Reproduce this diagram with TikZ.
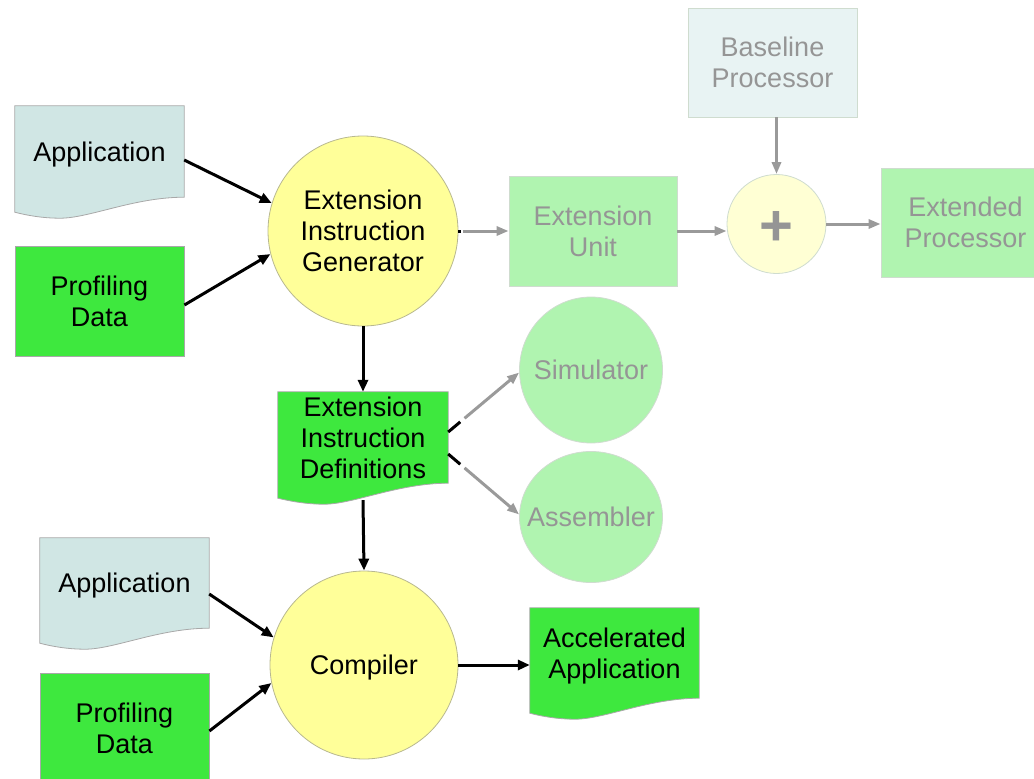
\documentclass[tikz,border=0pt]{standalone}
\usepackage{fontspec}
\setmainfont{Liberation Sans}
\usetikzlibrary{arrows.meta,calc,backgrounds,shapes.geometric}

\definecolor{appfill}{HTML}{D0E6E4}
\definecolor{profgreen}{HTML}{3EE83E}
\definecolor{genyellow}{HTML}{FFFF99}
\definecolor{palegreen}{HTML}{B0F4B0}
\definecolor{basefill}{HTML}{E8F3F3}
\definecolor{plusfill}{HTML}{FFFFD4}
\definecolor{fadetext}{HTML}{959595}
\definecolor{fadeline}{HTML}{9A9A9A}
\definecolor{edgegrey}{HTML}{A8A8A8}
\definecolor{edgeyellow}{HTML}{B8B890}
\definecolor{edgepale}{HTML}{CFDCCF}

\tikzset{
  lbl/.style={font=\fontsize{27}{31}\selectfont, align=center, inner sep=0pt},
  docnode/.style={lbl, rectangle, minimum width=169pt, minimum height=#1},
  droptext/.style={label={[lbl, yshift=-3pt]center:#1}},
  boxnode/.style={lbl, rectangle, minimum width=169pt, minimum height=#1, draw=edgegrey, line width=0.8pt},
  procnode/.style={lbl, circle, minimum size=#1, fill=genyellow, draw=edgeyellow, line width=0.8pt},
  fadebox/.style={lbl, rectangle, minimum width=169pt, minimum height=#1, draw=edgepale, line width=0.8pt, text=fadetext},
  fadetool/.style={ellipse, inner sep=0pt, fill=palegreen, draw=edgepale, line width=0.8pt,
                   label={[lbl, text=fadetext]center:#1}},
  docoutline/.style={draw=edgegrey, line width=0.8pt, fill=#1},
  flow/.style={line width=3pt, -{Triangle[length=12pt,width=10pt]}},
  fadeflow/.style={line width=3pt, fadeline, -{Triangle[length=12pt,width=9pt]}},
  stub/.style={line width=3pt},
}

% document symbol: flat top, wavy bottom below the node's south edge
\newcommand\docshape[2]{%
  \draw[docoutline=#2] (#1.north west) -- (#1.north east) -- (#1.south east)
    .. controls ($(#1.south east)+(-50,0)$) and ($(#1.south east)+(-95,21)$) .. ($(#1.south east)+(-124,21)$)
    .. controls ($(#1.south east)+(-142,21)$) and ($(#1.south east)+(-158,18)$) .. ($(#1.south west)+(0,15)$)
    -- cycle;}

\begin{document}
\begin{tikzpicture}[x=1pt, y=-1pt]
  \useasboundingbox (0,0) rectangle (1034,779);
  \clip (0,0) rectangle (1034,779);

  % first pass: generating the extension instructions
  \node[docnode=91pt, droptext=Application] (app1) at (99.5,151.5) {};
  \node[boxnode=110pt, fill=profgreen] (prof1) at (99.5,301) {Profiling\\Data};
  \node[procnode=190pt] (eig) at (363,231) {Extension\\Instruction\\Generator};
  \node[docnode=91pt, minimum width=170pt] (eid) at (363,437.5) {Extension\\Instruction\\Definitions};

  % second pass: compiling the application
  \node[docnode=90pt, droptext=Application] (app2) at (124.5,583) {};
  \node[boxnode=110pt, fill=profgreen] (prof2) at (124.5,728) {Profiling\\Data};
  \node[procnode=188pt, droptext=Compiler] (comp) at (364,665) {};
  \node[docnode=90pt, droptext={Accelerated\\Application}] (acc) at (614.5,653) {};

  % hardware side
  \node[fadebox=110pt, minimum width=168pt, fill=palegreen] (extu) at (593,231) {Extension\\Unit};
  \node[fadebox=109pt, fill=basefill] (base) at (772.5,62.5) {Baseline\\Processor};
  \node[circle, minimum size=99pt, fill=plusfill, draw=edgepale, line width=0.8pt,
        label={[inner sep=0pt, text=fadetext, font=\fontsize{58}{58}\selectfont\bfseries, yshift=-4pt]center:+}]
        (plus) at (776.5,224) {};
  \node[fadebox=109pt, fill=palegreen] (extp) at (965.5,222.5) {Extended\\Processor};

  % tools generated from the definitions
  \node[fadetool=Simulator, minimum width=143pt, minimum height=146pt] (sim) at (591,370) {};
  \node[fadetool=Assembler, minimum width=143pt, minimum height=131pt] (asm) at (591,517) {};

  \begin{scope}[on background layer]
    \docshape{app1}{appfill}
    \docshape{eid}{profgreen}
    \docshape{app2}{appfill}
    \docshape{acc}{profgreen}
  \end{scope}

  % connectors
  \draw[flow] ([yshift=-8.5pt]app1.east) -- (eig.163);
  \draw[flow] ([yshift=-4pt]prof1.east) -- (eig.194);
  \draw[flow] (eig.south) -- (eid.north);
  \draw[flow] ([yshift=-17pt]eid.south) -- (comp.north);
  \draw[flow] ([yshift=-11pt]app2.east) -- (comp.163);
  \draw[flow] ([yshift=-3pt]prof2.east) -- (comp.191);
  \draw[flow] (comp.east) -- (comp.east -| acc.west);

  \draw[stub] (eig.east) -- ($(eig.east)!0.06!(extu.west)$);
  \draw[fadeflow] ($(eig.east)!0.1!(extu.west)$) -- (extu.west);
  \draw[fadeflow] (extu.east) -- (extu.east -| plus.west);
  \draw[fadeflow] (plus.east) -- (plus.east -| extp.west);
  \draw[fadeflow] (base.south -| plus.north) -- (plus.north);

  \coordinate (dsim) at ([yshift=5.5pt]eid.east);
  \coordinate (dasm) at ([yshift=-16.5pt]eid.east);
  \draw[stub] (dsim) -- ($(dsim)!0.17!(sim.182)$);
  \draw[fadeflow] ($(dsim)!0.23!(sim.182)$) -- (sim.182);
  \draw[stub] (dasm) -- ($(dasm)!0.17!(asm.178)$);
  \draw[fadeflow] ($(dasm)!0.23!(asm.178)$) -- (asm.178);
\end{tikzpicture}
\end{document}
